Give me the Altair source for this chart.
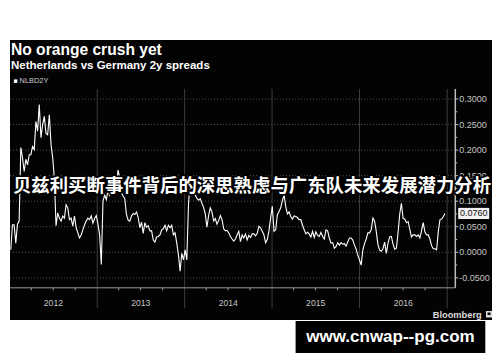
import altair as alt
import pandas as pd

# ---------------- text ----------------
title_text = "No orange crush yet"
subtitle_text = "Netherlands vs Germany 2y spreads"
series_name = "NLBD2Y"
banner_text = "贝兹利买断事件背后的深思熟虑与广东队未来发展潜力分析"
watermark_text = "www.cnwap--pg.com"
source_text = "Bloomberg"
last_label = "0.0760"

# ---------------- data (weekly NLBD2Y spread) ----------------
first_week = "2012-01-06"
nlbd2y = [
    0.005, 0.054, 0.054, 0.018, 0.055, 0.061, 0.205, 0.185, 0.158, 0.182,
    0.171, 0.191, 0.191, 0.207, 0.201, 0.256, 0.237, 0.289, 0.224, 0.250,
    0.266, 0.233, 0.230, 0.269, 0.211, 0.185, 0.145, 0.052, 0.077, 0.067,
    0.061, 0.071, 0.067, 0.093, 0.087, 0.064, 0.067, 0.051, 0.071, 0.048,
    0.038, 0.028, 0.034, 0.044, 0.054,
    0.061, 0.067, 0.064, 0.071, 0.057, 0.066, 0.072, 0.055, 0.034, -0.024,
    0.100, 0.112, 0.103, 0.122, 0.110, 0.126, 0.122, 0.136, 0.129, 0.161,
    0.145, 0.116, 0.110, 0.105, 0.074, 0.063, 0.061, 0.071, 0.076, 0.074,
    0.079, 0.068, 0.048, 0.059, 0.037, 0.058, 0.049, 0.052, 0.042, 0.042,
    0.024, 0.020, 0.030, 0.031, 0.034,
    0.044, 0.046, 0.053, 0.042, 0.053, 0.048, 0.053, 0.034, 0.038, 0.018,
    -0.005, -0.037, -0.002, -0.015, 0.005, -0.015, 0.093, 0.140, 0.129, 0.122,
    0.112, 0.106, 0.102, 0.105, 0.096, 0.088, 0.075, 0.049, 0.072, 0.087,
    0.079, 0.061, 0.066, 0.055, 0.062, 0.072, 0.064, 0.046, 0.042, 0.043,
    0.038, 0.031, 0.026, 0.022, 0.026,
    0.034, 0.041, 0.021, 0.034, 0.028, 0.036, 0.024, 0.033, 0.029, 0.036,
    0.036, 0.032, 0.037, 0.051, 0.048, 0.041, 0.034, 0.019, 0.025, 0.042,
    0.068, 0.090, 0.041, 0.044, 0.073, 0.080, 0.087, 0.101, 0.112, 0.090,
    0.075, 0.079, 0.070, 0.065, 0.071, 0.070, 0.068, 0.064, 0.064, 0.053,
    0.044, 0.036, 0.039, 0.036, 0.030,
    0.041, 0.029, 0.040, 0.033, 0.031, 0.039, 0.031, 0.026, 0.044, 0.042,
    0.028, 0.018, 0.019, 0.008, 0.011, 0.019, 0.014, 0.019, 0.016, 0.017,
    0.012, 0.020, 0.028, 0.028, 0.024, 0.014, 0.006, -0.006, -0.015, -0.025,
    0.005, 0.017, 0.026, 0.038, 0.038, 0.044, 0.067, 0.061, 0.041, 0.015,
    0.004, 0.002, 0.007, 0.020, -0.002,
    0.018, 0.030, 0.031, 0.016, 0.006, 0.008, 0.038, 0.075, 0.096, 0.066,
    0.065, 0.058, 0.060, 0.045, 0.030, 0.034, 0.034, 0.031, 0.034, 0.028,
    0.042, 0.058, 0.040, 0.034, 0.034, 0.026, 0.013, 0.007, 0.007, 0.005,
    0.041, 0.064, 0.065, 0.070, 0.076,
]

# ---------------- axes ----------------
y_ticks = [-0.05, 0.0, 0.05, 0.10, 0.15, 0.20, 0.25, 0.30]
y_tick_labels = ["-0.0500", "0.0000", "0.0500", "0.1000", "0.1500", "0.2000", "0.2500", "0.3000"]
y_minor_ticks = [-0.025, 0.025, 0.075, 0.125, 0.175, 0.225, 0.275]
year_labels = ["2012", "2013", "2014", "2015", "2016"]
year_label_dates = ["2012-07-02", "2013-07-02", "2014-07-02", "2015-07-02", "2016-07-02"]
year_starts = ["2013-01-01", "2014-01-01", "2015-01-01", "2016-01-01", "2017-01-01"]
quarter_starts = [f"{y}-{m:02d}-01" for y in range(2012, 2017) for m in (4, 7, 10)]

# frame of the plot (in data units)
plot_start = "2012-01-02T19:00:00"
plot_end = "2017-02-04"
tick_end = "2017-02-16"
minor_tick_end = "2017-02-12"
plot_top = 0.3196
axis_y = -0.0695
grid_bottom = -0.1096
year_label_y = -0.0998

W, H = 484, 346
FONT = "Liberation Sans"

x_scale = alt.Scale(domain=[alt.DateTime(year=2012, month=1, date=2, hours=19),
                            alt.DateTime(year=2017, month=7, date=7, hours=5)])
y_scale = alt.Scale(domain=[-0.199, 0.478], nice=False, zero=False)


def X(f):
    return alt.X(f, type="temporal", scale=x_scale, axis=None)


def Y(f):
    return alt.Y(f, type="quantitative", scale=y_scale, axis=None)


dt = pd.to_datetime
one = pd.DataFrame({"k": [0]})

line_df = pd.DataFrame({
    "date": pd.date_range(first_week, periods=len(nlbd2y), freq="7D"),
    "value": nlbd2y,
})
hgrid_df = pd.DataFrame({"v": y_ticks, "x0": dt(plot_start), "x1": dt(plot_end)})
ytick_df = pd.DataFrame({"v": y_ticks, "x0": dt(plot_end), "x1": dt(tick_end), "label": y_tick_labels})
yminor_df = pd.DataFrame({"v": y_minor_ticks, "x0": dt(plot_end), "x1": dt(minor_tick_end)})
vgrid_df = pd.DataFrame({"d": dt(year_starts), "top": plot_top, "bottom": grid_bottom})
qtick_df = pd.DataFrame({"d": dt(quarter_starts), "a": axis_y, "b": axis_y - 0.005})
year_df = pd.DataFrame({"d": dt(year_label_dates), "v": year_label_y, "label": year_labels})
xaxis_df = pd.DataFrame({"x0": [dt(plot_start)], "x1": [dt(plot_end)], "v": [axis_y]})
yaxis_df = pd.DataFrame({"x": [dt(plot_end)], "a": [plot_top], "b": [axis_y]})
last_df = pd.DataFrame({"x": [dt(plot_end)], "v": [nlbd2y[-1]], "label": [last_label]})

bg = alt.Chart(one).mark_rect(color="#030303").encode(
    x=alt.value(0), x2=alt.value(W), y=alt.value(32), y2=alt.value(312))

hgrid = alt.Chart(hgrid_df).mark_rule(color="#505050", strokeDash=[1, 2], strokeWidth=1).encode(
    x=X("x0"), x2="x1", y=Y("v"))
vgrid = alt.Chart(vgrid_df).mark_rule(color="#3c3c3c", strokeWidth=1).encode(
    x=X("d"), y=Y("top"), y2="bottom")
xaxis = alt.Chart(xaxis_df).mark_rule(color="#9a9a9a", strokeWidth=1).encode(
    x=X("x0"), x2="x1", y=Y("v"))
qticks = alt.Chart(qtick_df).mark_rule(color="#9a9a9a", strokeWidth=1).encode(
    x=X("d"), y=Y("a"), y2="b")
yaxis = alt.Chart(yaxis_df).mark_rule(color="#bdbdbd", strokeWidth=1.5).encode(
    x=X("x"), y=Y("a"), y2="b")
yticks = alt.Chart(ytick_df).mark_rule(color="#bdbdbd", strokeWidth=1).encode(
    x=X("x0"), x2="x1", y=Y("v"))
yminor = alt.Chart(yminor_df).mark_rule(color="#bdbdbd", strokeWidth=1).encode(
    x=X("x0"), x2="x1", y=Y("v"))
ylabels = alt.Chart(ytick_df).mark_text(
    align="left", baseline="middle", dx=4, font=FONT, fontSize=9, color="#c4c4c4").encode(
    x=X("x0"), y=Y("v"), text="label:N")
ylabels_year = alt.Chart(year_df).mark_text(
    align="center", baseline="middle", font=FONT, fontSize=8.6, color="#c4c4c4").encode(
    x=X("d"), y=Y("v"), text="label:N")

line = alt.Chart(line_df).mark_line(color="#ffffff", strokeWidth=1.1).encode(
    x=X("date"), y=Y("value"))

last_box = alt.Chart(last_df).mark_point(
    shape="M-1,-0.36H1V0.36H-1Z", size=961, filled=True, opacity=1,
    color="#f2f2f2", xOffset=18.4).encode(x=X("x"), y=Y("v"))
last_text = alt.Chart(last_df).mark_text(
    align="center", baseline="middle", dx=18.4, font=FONT, fontSize=9, color="#111111").encode(
    x=X("x"), y=Y("v"), text="label:N")

title = alt.Chart(one).mark_text(
    text=title_text, align="left", baseline="alphabetic", font=FONT, fontSize=15.6,
    fontWeight="bold", color="#ffffff").encode(x=alt.value(1), y=alt.value(47.3))
subtitle = alt.Chart(one).mark_text(
    text=subtitle_text, align="left", baseline="alphabetic", font=FONT, fontSize=11.5,
    fontWeight="bold", color="#ffffff").encode(x=alt.value(1), y=alt.value(60.5))
legend_sq = alt.Chart(one).mark_rect(color="#ffffff").encode(
    x=alt.value(3.9), x2=alt.value(7.4), y=alt.value(71.4), y2=alt.value(74.9))
legend_txt = alt.Chart(one).mark_text(
    text=series_name, align="left", baseline="middle", font=FONT, fontSize=7.4,
    color="#cfcfcf").encode(x=alt.value(9.6), y=alt.value(73.2))

source = alt.Chart(one).mark_text(
    text=source_text, align="left", baseline="middle", font=FONT, fontSize=9.3,
    fontWeight="bold", color="#dcdcdc").encode(x=alt.value(422.7), y=alt.value(307))
icon = alt.Chart(one).mark_rect(color="#dcdcdc").encode(
    x=alt.value(476), x2=alt.value(482), y=alt.value(303), y2=alt.value(309.5))
icon_in = alt.Chart(one).mark_rect(color="#030303").encode(
    x=alt.value(477.5), x2=alt.value(480.5), y=alt.value(304.5), y2=alt.value(307))

banner_stroke = alt.Chart(one).mark_text(
    text=banner_text, align="center", baseline="middle", font="Noto Sans CJK SC",
    fontSize=18.4, fontWeight="bold", color="#000000", stroke="#000000",
    strokeWidth=3.5, strokeJoin="round").encode(x=alt.value(242), y=alt.value(178.3))
banner = alt.Chart(one).mark_text(
    text=banner_text, align="center", baseline="middle", font="Noto Sans CJK SC",
    fontSize=18.4, fontWeight="bold", color="#ffffff").encode(
    x=alt.value(242), y=alt.value(178.3))

wm_box = alt.Chart(one).mark_rect(color="#000000").encode(
    x=alt.value(285.6), x2=alt.value(475.3), y=alt.value(313), y2=alt.value(345))
wm_text = alt.Chart(one).mark_text(
    text=watermark_text, align="center", baseline="middle", font=FONT, fontSize=17,
    fontWeight="bold", color="#ffffff").encode(x=alt.value(380.5), y=alt.value(329))

chart = alt.layer(
    bg, hgrid, vgrid, xaxis, qticks, yaxis, yticks, yminor, ylabels, ylabels_year,
    line, last_box, last_text, title, subtitle, legend_sq, legend_txt,
    source, icon, icon_in, banner_stroke, banner, wm_box, wm_text,
).properties(
    width=W, height=H, padding=0,
    autosize=alt.AutoSizeParams(type="fit", contains="padding"),
    background="#ffffff",
).configure_view(stroke=None)

chart.save("out.html", embed_options={"renderer": "svg", "actions": False})
